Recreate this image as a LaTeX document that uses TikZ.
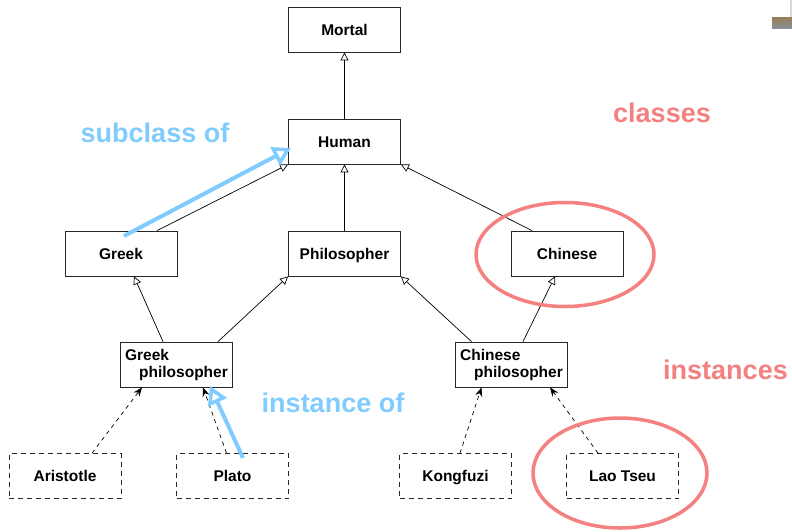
\documentclass[tikz,border=0pt]{standalone}
\usepackage{fontspec}
\setmainfont{Liberation Sans}
\usetikzlibrary{arrows.meta,shapes.geometric}
\definecolor{annblue}{RGB}{128,204,255}
\definecolor{annred}{RGB}{245,128,128}
\tikzset{
  cls/.style={draw=black!85, line width=0.8pt, minimum width=112pt, minimum height=45pt,
    inner sep=0pt, font=\fontsize{15.5}{17}\selectfont\bfseries, align=left},
  one/.style={text height=11.2pt, text depth=0pt},
  inst/.style={cls, one, dashed, dash pattern=on 5pt off 4pt},
  isa/.style={draw=black, line width=0.7pt, -{Triangle[open,length=8pt,width=8pt,line width=0.7pt]}},
  insof/.style={draw=black, line width=0.7pt, dash pattern=on 4pt off 4pt, -{Stealth[length=9pt,width=7pt]}},
  annarrow/.style={draw=annblue, line width=4pt, -{Triangle[open,length=18pt,width=20pt,line width=3.5pt]}},
  anntext/.style={font=\fontsize{27}{30}\selectfont\bfseries, inner sep=0pt},
  annring/.style={draw=annred, line width=3.5pt},
}
\begin{document}
\begin{tikzpicture}[x=1pt,y=-1pt]
\useasboundingbox (0,0) rectangle (792,531);
% nodes
\node[cls,one] (mortal) at (344.5,29.5) {Mortal};
\node[cls,one] (human) at (344.5,141.5) {Human};
\node[cls,one] (greek) at (121,253.5) {Greek};
\node[cls,one] (philosopher) at (344.5,253.5) {Philosopher};
\node[cls,one] (chinese) at (567,253.5) {Chinese};
\node[cls] (gphil) at (176.5,364.5) {Greek\\\hspace*{14pt}philosopher};
\node[cls] (cphil) at (511.5,364.5) {Chinese\\\hspace*{14pt}philosopher};
\node[inst] (aristotle) at (65,476) {Aristotle};
\node[inst] (plato) at (232.5,476) {Plato};
\node[inst] (kongfuzi) at (455.5,476) {Kongfuzi};
\node[inst] (laotseu) at (622.5,476) {Lao Tseu};
% subclass edges
\draw[isa] (human.north) -- (mortal.south);
\draw[isa] ([xshift=36pt]greek.north) -- (human.south west);
\draw[isa] (philosopher.north) -- (human.south);
\draw[isa] ([xshift=-35pt]chinese.north) -- (human.south east);
\draw[isa] ([xshift=-13.5pt]gphil.north) -- ([xshift=13pt]greek.south);
\draw[isa] ([xshift=41.5pt]gphil.north) -- (philosopher.south west);
\draw[isa] ([xshift=-40pt]cphil.north) -- (philosopher.south east);
\draw[isa] ([xshift=11.5pt]cphil.north) -- ([xshift=-12pt]chinese.south);
% instance edges
\draw[insof] ([xshift=27pt]aristotle.north) -- ([xshift=-34.5pt]gphil.south);
\draw[insof] ([xshift=-6pt]plato.north) -- ([xshift=26.5pt]gphil.south);
\draw[insof] ([xshift=4.5pt]kongfuzi.north) -- ([xshift=-30pt]cphil.south);
\draw[insof] ([xshift=-24.5pt]laotseu.north) -- ([xshift=38.5pt]cphil.south);
% annotations
\node[anntext, text=annblue] (subtxt) at (155,133) {subclass of};
\node[anntext, text=annblue] (insttxt) at (333,403) {instance of};
\node[anntext, text=annred] (clstxt) at (662,113) {classes};
\node[anntext, text=annred] (insttxt2) at (725.5,370) {instances};
\coordinate (b1s) at (124,236);
\coordinate (b1e) at (291,148);
\coordinate (b2s) at (243,458);
\coordinate (b2e) at (210,386);
\draw[annarrow] (b1s) -- (b1e);
\draw[annarrow] (b2s) -- (b2e);
\draw[annring] (565,254.5) ellipse [x radius=89, y radius=52];
\draw[annring] (620,473) ellipse [x radius=87, y radius=55];
% corner picture fragment
\shade[top color={rgb,255:red,150;green,125;blue,85}, bottom color={rgb,255:red,135;green,145;blue,150}] (772,17) rectangle (792,28);
\fill[black!15] (790,0) rectangle (792,17);
\end{tikzpicture}
\end{document}
